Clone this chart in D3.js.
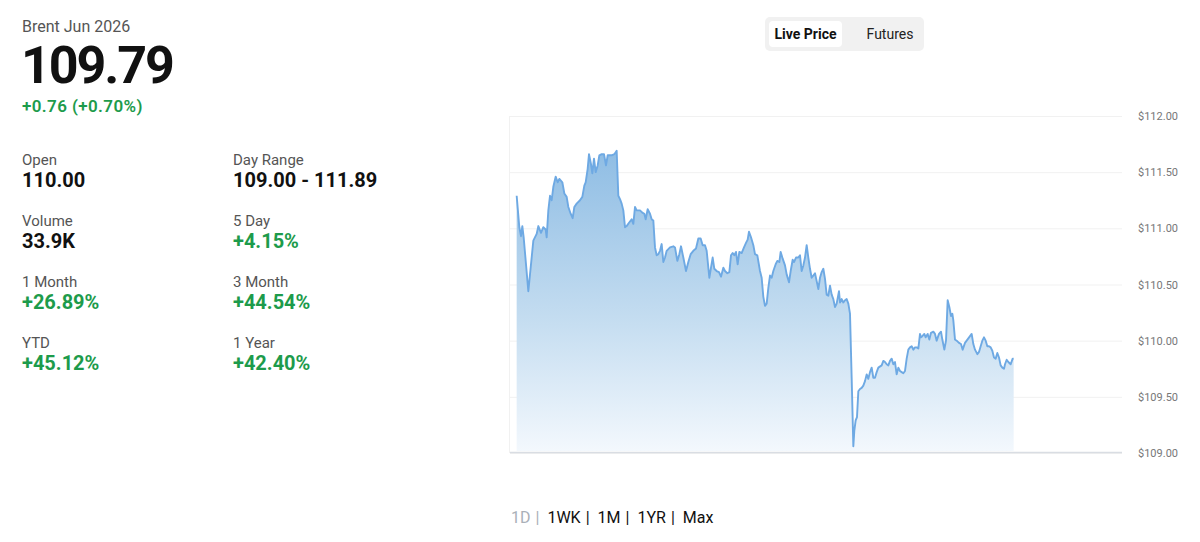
<!DOCTYPE html>
<html>
<head>
<meta charset="utf-8">
<script src="https://cdn.jsdelivr.net/npm/d3@7"></script>
<style>
  html, body { margin: 0; padding: 0; background: #fff; }
  svg { display: block; font-family: Roboto, "Open Sans", sans-serif; }
</style>
</head>
<body>
<svg id="chart" width="1200" height="542"></svg>
<script>
// ---------------- data ----------------
const title = "Brent Jun 2026";
const lastPrice = "109.79";
const change = "+0.76 (+0.70%)";
const statLabels = ["Open", "Day Range", "Volume", "5 Day", "1 Month", "3 Month", "YTD", "1 Year"];
const statValues = ["110.00", "109.00 - 111.89", "33.9K", "+4.15%", "+26.89%", "+44.54%", "+45.12%", "+42.40%"];
const statPositive = [false, false, false, true, true, true, true, true];
const toggleLabels = ["Live Price", "Futures"];
const rangeLabels = ["1D", "1WK", "1M", "1YR", "Max"];
const yTicks = [109.0, 109.5, 110.0, 110.5, 111.0, 111.5, 112.0];
const timeDomain = [0, 1836]; // session time units
const times = [
  20,28,33,37,41,55,70,80,85,93,100,107,110,115,120,125,130,137,143,148,157,163,170,175,182,188,193,200,210,217,223,227,233,237,243,247,252,257,263,268,275,282,288,293,305,313,320,325,330,335,340,345,350,357,365,370,375,380,385,390,397,403,407,413,420,425,430,435,440,445,450,455,460,465,470,480,490,
  495,502,508,513,520,528,535,542,550,558,565,572,578,585,590,598,603,608,613,620,627,633,640,645,652,658,663,668,673,678,683,688,695,702,708,713,717,723,730,735,742,750,755,760,765,770,775,780,785,790,797,802,808,812,818,825,830,837,842,848,852,858,865,870,875,880,885,890,895,900,905,910,915,920,925,930,935,940,945,950,955,960,965,970,975,
  980,987,990,995,1000,1005,1010,1015,1020,1025,1030,1033,1037,1041,1045,1050,1055,1060,1065,1070,1075,1080,1085,1090,1095,1100,1105,1115,1120,1125,1130,1135,1140,1145,1150,1155,1160,1165,1170,1175,1180,1185,1190,1195,1200,1205,1210,1215,1220,1225,1230,1233,1237,1243,1247,1253,1258,1263,1270,1275,1280,1287,1293,1297,1303,1308,1313,1318,1323,1327,1330,1335,1340,1347,1353,1358,1365,1370,1375,1380,1385,1390,1395,1402,1407,1412,1417,1422,1427,1432,1437,1442,1447,1452,1457,1462,1467,1472,1477,1482,1485,1490,1495,1502,1508,1511
];
const prices = [
  111.29,111.01,110.93,111.02,110.92,110.44,110.89,110.95,111.02,110.96,111.01,110.99,110.92,111.16,111.29,111.25,111.37,111.46,111.41,111.44,111.41,111.31,111.28,111.19,111.13,111.09,111.19,111.22,111.25,111.28,111.38,111.41,111.53,111.66,111.57,111.49,111.62,111.50,111.56,111.65,111.66,111.66,111.56,111.65,111.65,111.66,111.69,111.29,111.26,111.22,111.16,111.01,111.02,111.05,111.08,111.04,111.19,111.16,111.16,111.16,111.14,111.13,111.08,111.17,111.13,111.08,111.07,110.83,110.76,110.77,110.80,110.86,110.70,110.74,110.80,110.83,110.84,
  110.83,110.71,110.77,110.84,110.74,110.62,110.70,110.77,110.80,110.82,110.91,110.91,110.85,110.85,110.80,110.56,110.65,110.74,110.64,110.62,110.61,110.57,110.65,110.62,110.60,110.61,110.76,110.78,110.76,110.79,110.68,110.79,110.78,110.83,110.87,110.90,110.97,110.92,110.85,110.77,110.76,110.62,110.56,110.39,110.31,110.33,110.47,110.58,110.56,110.62,110.68,110.71,110.70,110.79,110.73,110.67,110.59,110.52,110.62,110.72,110.70,110.74,110.74,110.76,110.62,110.67,110.74,110.85,110.74,110.64,110.56,110.58,110.60,110.53,110.46,110.56,110.61,110.64,110.55,110.41,110.40,110.49,110.41,110.37,110.30,
  110.33,110.44,110.34,110.37,110.34,110.36,110.37,110.33,110.24,109.67,109.06,109.20,109.29,109.32,109.55,109.57,109.58,109.60,109.64,109.70,109.66,109.72,109.76,109.67,109.67,109.72,109.76,109.78,109.82,109.81,109.79,109.78,109.82,109.84,109.79,109.81,109.70,109.76,109.73,109.72,109.71,109.73,109.84,109.92,109.94,109.95,109.92,109.94,109.94,109.93,110.06,110.03,110.04,110.06,110.03,110.06,110.01,110.07,110.08,110.06,110.00,110.06,110.08,110.01,109.92,110.00,110.36,110.30,110.22,110.24,110.18,110.01,110.00,109.98,109.97,109.92,109.98,110.00,110.02,110.04,110.06,109.97,109.92,109.88,109.90,109.95,110.00,110.03,110.00,109.95,109.95,109.94,109.91,109.85,109.84,109.89,109.85,109.78,109.76,109.75,109.79,109.83,109.81,109.79,109.84,109.84
];

// ---------------- layout ----------------
const svg = d3.select("#chart");
const green = "#1d9b4b";
const plot = { left: 510, right: 1122, top: 116, bottom: 453 };

// header
svg.append("text").attr("x", 22).attr("y", 32).attr("font-size", 16).attr("fill", "#555").text(title);
svg.append("text").attr("x", 21).attr("y", 83).attr("font-size", 52).attr("font-weight", 700)
  .attr("letter-spacing", -2.1).attr("fill", "#111").text(lastPrice);
svg.append("text").attr("x", 22).attr("y", 112).attr("font-size", 17).attr("font-weight", 600)
  .attr("letter-spacing", 0.4).attr("fill", green).text(change);

// stats grid
const colX = [22, 233];
const rowY = [165, 226, 287, 348];
statLabels.forEach((lab, i) => {
  const c = i % 2, r = Math.floor(i / 2);
  svg.append("text").attr("x", colX[c]).attr("y", rowY[r]).attr("font-size", 15).attr("fill", "#555").text(lab);
  svg.append("text").attr("x", colX[c]).attr("y", rowY[r] + 22).attr("font-size", 20).attr("font-weight", 700)
    .attr("fill", statPositive[i] ? green : "#111").text(statValues[i]);
});

// toggle
svg.append("rect").attr("x", 765).attr("y", 17).attr("width", 159).attr("height", 34).attr("rx", 5).attr("fill", "#f1f1f1");
svg.append("rect").attr("x", 769).attr("y", 21).attr("width", 73).attr("height", 26).attr("rx", 4).attr("fill", "#fff");
svg.append("text").attr("x", 805.5).attr("y", 39).attr("text-anchor", "middle").attr("font-size", 14).attr("font-weight", 700).attr("fill", "#111").text(toggleLabels[0]);
svg.append("text").attr("x", 890).attr("y", 39).attr("text-anchor", "middle").attr("font-size", 14).attr("fill", "#222").text(toggleLabels[1]);

// scales
const x = d3.scaleLinear().domain(timeDomain).range([plot.left, plot.right]);
const y = d3.scaleLinear().domain([yTicks[0], yTicks[yTicks.length - 1]]).range([plot.bottom, plot.top]);

// gridlines + y labels
const yAxis = d3.axisRight(y).tickValues(yTicks).tickSize(-(plot.right - plot.left)).tickPadding(16)
  .tickFormat(d => "$" + d3.format(".2f")(d));
const gy = svg.append("g").attr("transform", `translate(${plot.right},0)`).call(yAxis);
gy.select(".domain").remove();
gy.selectAll(".tick line").attr("stroke", "#f1f1f1").attr("stroke-width", 1);
gy.selectAll(".tick text").attr("font-size", 11).attr("fill", "#777").attr("font-family", "Roboto, sans-serif");
// left faint edge
svg.append("line").attr("x1", plot.left - 0.5).attr("x2", plot.left - 0.5).attr("y1", plot.top).attr("y2", plot.bottom)
  .attr("stroke", "#f1f1f1");

// gradient
const defs = svg.append("defs");
const grad = defs.append("linearGradient").attr("id", "areaGrad").attr("x1", 0).attr("y1", 0).attr("x2", 0).attr("y2", 1);
grad.append("stop").attr("offset", "0%").attr("stop-color", "#8fbde4");
grad.append("stop").attr("offset", "55%").attr("stop-color", "#c3dcf0");
grad.append("stop").attr("offset", "100%").attr("stop-color", "#f3f8fd");

const pts = times.map((t, i) => [t, prices[i]]);
const area = d3.area().x(d => x(d[0])).y0(plot.bottom - 2).y1(d => y(d[1]));
const line = d3.line().x(d => x(d[0])).y(d => y(d[1]));
svg.append("path").datum(pts).attr("d", area).attr("fill", "url(#areaGrad)");
svg.append("path").datum(pts).attr("d", line).attr("fill", "none").attr("stroke", "#6ea9e3").attr("stroke-width", 1.9)
  .attr("stroke-linejoin", "round");

// bottom axis line
svg.append("line").attr("x1", plot.left).attr("x2", plot.right).attr("y1", plot.bottom - 0.5).attr("y2", plot.bottom - 0.5)
  .attr("stroke", "#d9dde3").attr("stroke-width", 1.5);

// range selector
let rx = 511;
rangeLabels.forEach((lab, i) => {
  const col = i === 0 ? "#aab0b8" : "#111";
  const t = svg.append("text").attr("x", rx).attr("y", 523).attr("font-size", 16).attr("fill", col).text(lab);
  rx += t.node().getComputedTextLength();
  if (i < rangeLabels.length - 1) {
    rx += 5;
    const p = svg.append("text").attr("x", rx).attr("y", 523).attr("font-size", 16).attr("fill", col).text("|");
    rx += p.node().getComputedTextLength() + 8;
  }
});
</script>
</body>
</html>
